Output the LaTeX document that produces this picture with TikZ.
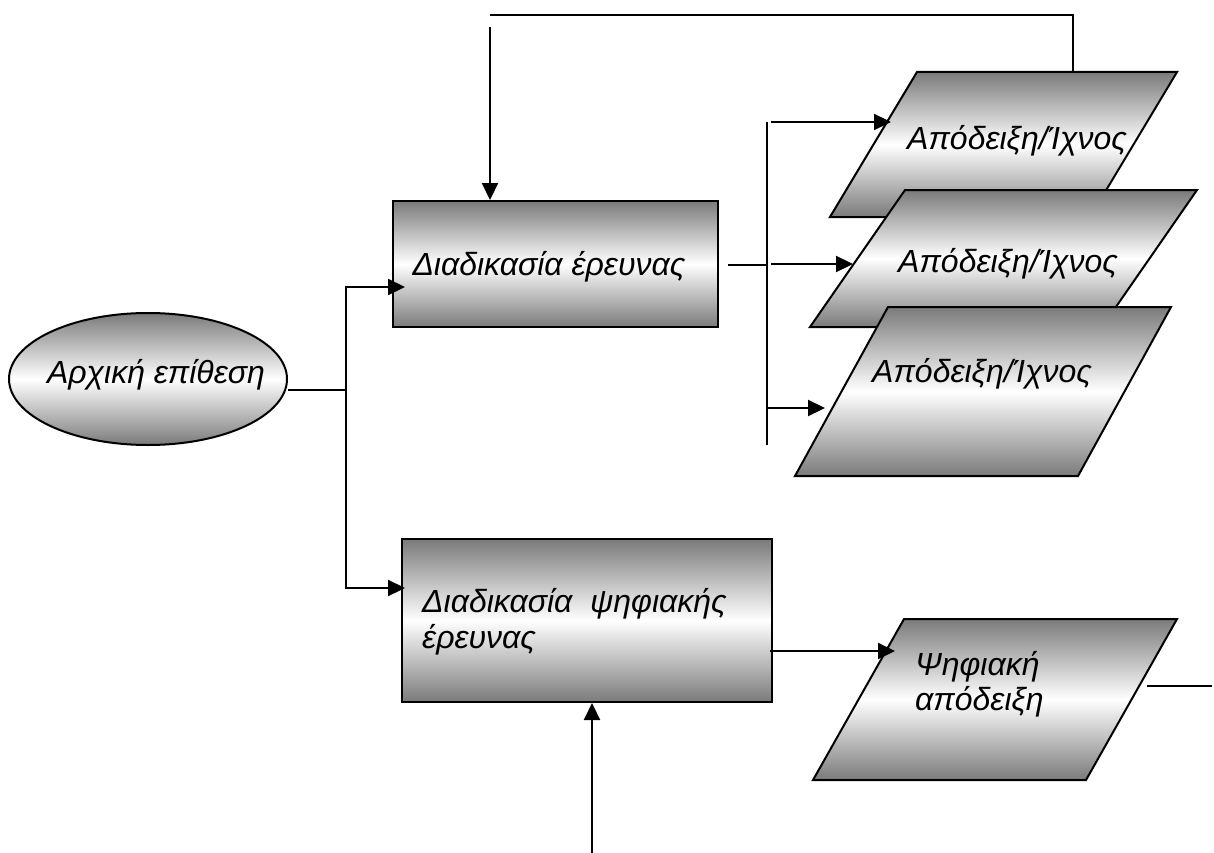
\documentclass[tikz,border=0pt]{standalone}
\usepackage{fontspec}
\setmainfont{Liberation Sans}
\usetikzlibrary{shapes.geometric,arrows.meta,calc}
\definecolor{shadegray}{gray}{0.48}

\begin{document}
\begin{tikzpicture}[x=1pt,y=-1pt,
  shadefill/.style={draw=black, line width=2pt, top color=shadegray,
    bottom color=shadegray, middle color=white},
  lbl/.style={font=\fontsize{32}{38}\selectfont\itshape, inner sep=0pt},
  conn/.style={line width=2.2pt},
  arr/.style={conn, -{Triangle[length=17pt,width=16pt]}},
]
\useasboundingbox (0,0) rectangle (1214,853);

% start event and the two process boxes
\node[ellipse, shadefill, inner sep=0pt, minimum width=278pt, minimum height=132pt] (att) at (148,379) {};
\node[lbl, anchor=base] (attt) at (156,383) {Αρχική επίθεση};
\node[rectangle, shadefill, minimum width=325pt, minimum height=126pt] (b1) at (555.5,264) {};
\node[lbl, anchor=base] (b1t) at (549,275) {Διαδικασία έρευνας};
\node[rectangle, shadefill, minimum width=370pt, minimum height=163pt] (b2) at (587,620.5) {};
\node[lbl, anchor=base west] (b2a) at (422,612) {Διαδικασία\ \ ψηφιακής};
\node[lbl, anchor=base west] (b2b) at (422,648) {έρευνας};

% stacked evidence parallelograms
\coordinate (p1a) at (917,72);  \coordinate (p1b) at (1177,72);
\coordinate (p1c) at (1090,217); \coordinate (p1d) at (830,217);
\coordinate (p2a) at (905,190); \coordinate (p2b) at (1197,190);
\coordinate (p2c) at (1102,327); \coordinate (p2d) at (810,327);
\coordinate (p3a) at (888,307); \coordinate (p3b) at (1171,307);
\coordinate (p3c) at (1078,476); \coordinate (p3d) at (795,476);
\coordinate (p4a) at (904,619); \coordinate (p4b) at (1177,619);
\coordinate (p4c) at (1086,780); \coordinate (p4d) at (813,780);

\path[shadefill] (p1a) -- (p1b) -- (p1c) -- (p1d) -- cycle;
\node[lbl, anchor=base west] (e1) at (907,150) {Απόδειξη/Ίχνος};
\path[shadefill] (p2a) -- (p2b) -- (p2c) -- (p2d) -- cycle;
\node[lbl, anchor=base west] (e2) at (898,272) {Απόδειξη/Ίχνος};
\path[shadefill] (p3a) -- (p3b) -- (p3c) -- (p3d) -- cycle;
\node[lbl, anchor=base west] (e3) at (872,382) {Απόδειξη/Ίχνος};
\path[shadefill] (p4a) -- (p4b) -- (p4c) -- (p4d) -- cycle;
\node[lbl, anchor=base west] (d1) at (915,675) {Ψηφιακή};
\node[lbl, anchor=base west] (d2) at (915,710) {απόδειξη};

% branching from the start event
\coordinate (jn) at (346,390);
\coordinate (b1in) at (405,287);
\coordinate (b2in) at (405,588);
\draw[conn] (att.east |- jn) -- (jn);
\draw[arr] (jn) |- (b1in);
\draw[arr] (jn) |- (b2in);

% feedback from the first evidence item
\coordinate (p1top) at (1073,72);
\coordinate (fbL) at (490,15);
\coordinate (fbS) at (490,27);
\draw[line width=1.8pt] (p1top) |- (fbL);
\draw[arr] (fbS) -- (fbS |- b1.north);

% distribution bar to the evidence items
\coordinate (b1out) at (728,265);
\coordinate (barM) at (767,265);
\coordinate (barT) at (767,122);
\coordinate (barB) at (767,445);
\draw[conn] (b1out) -- (barM);
\draw[conn] (barT) -- (barB);
\coordinate (a1s) at (771,122); \coordinate (a1e) at (891,122);
\coordinate (a2s) at (771,264); \coordinate (a2e) at (853,264);
\coordinate (a3s) at (767,408); \coordinate (a3e) at (825,408);
\draw[arr] (a1s) -- (a1e);
\draw[arr] (a2s) -- (a2e);
\draw[arr] (a3s) -- (a3e);

% digital investigation branch
\coordinate (b2out) at (770,651);
\coordinate (p4in) at (895,651);
\draw[arr] (b2out) -- (p4in);
\coordinate (p4out) at (1147,686);
\coordinate (rend) at (1212,686);
\draw[conn] (p4out) -- (rend);
\coordinate (bsrc) at (592,853);
\draw[arr] (bsrc) -- (bsrc |- b2.south);
\end{tikzpicture}
\end{document}
